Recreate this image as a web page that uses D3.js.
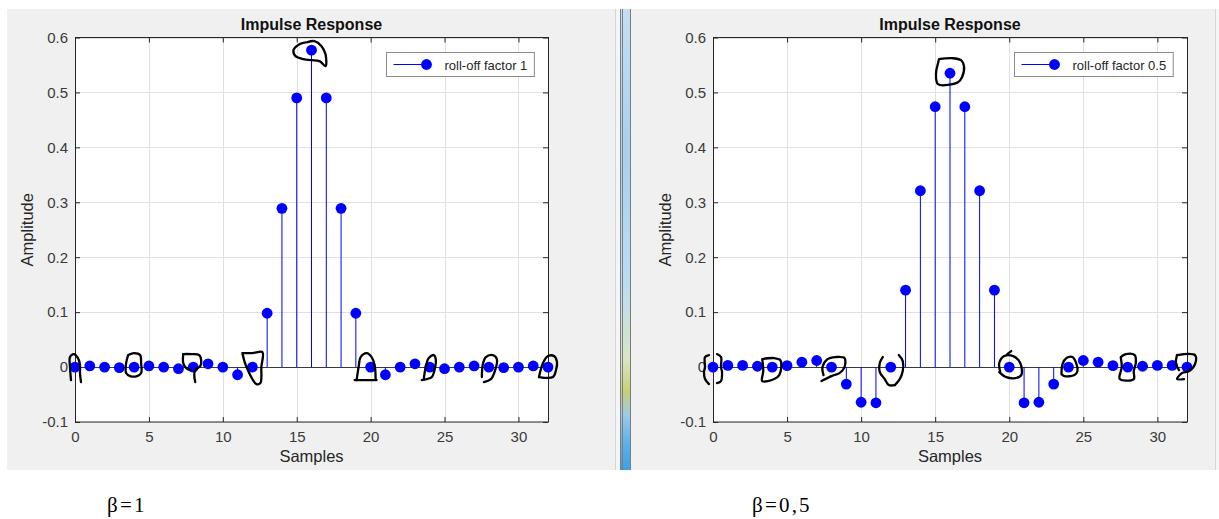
<!DOCTYPE html>
<html>
<head>
<meta charset="utf-8">
<script src="https://cdn.jsdelivr.net/npm/d3@7"></script>
<style>
  body { margin: 0; background: #ffffff; }
  svg { display: block; }
</style>
</head>
<body>
<svg id="fig" width="1219" height="519"></svg>
<script>
// Raised-cosine impulse responses (33 taps) for two roll-off factors
const samples = [0, 1, 2, 3, 4, 5, 6, 7, 8, 9, 10, 11, 12, 13, 14, 15, 16,
                 17, 18, 19, 20, 21, 22, 23, 24, 25, 26, 27, 28, 29, 30, 31, 32];

const rolloff1 = [0, 0.002, 0, -0.001, 0, 0.002, 0, -0.003, 0, 0.006, 0, -0.014, 0,
                  0.098, 0.289, 0.490, 0.577, 0.490, 0.289, 0.098,
                  0, -0.014, 0, 0.006, 0, -0.003, 0, 0.002, 0, -0.001, 0, 0.002, 0];

const rolloff05 = [0, 0.003, 0.003, 0.0015, 0, 0.0026, 0.009, 0.012, 0, -0.031, -0.064, -0.065, 0,
                   0.140, 0.321, 0.474, 0.535, 0.474, 0.321, 0.140,
                   0, -0.065, -0.064, -0.031, 0, 0.012, 0.009, 0.0026, 0, 0.0015, 0.003, 0.003, 0];

const xTicks = [0, 5, 10, 15, 20, 25, 30];
const yTicks = [-0.1, 0, 0.1, 0.2, 0.3, 0.4, 0.5, 0.6];
const yTickLabels = ["-0.1", "0", "0.1", "0.2", "0.3", "0.4", "0.5", "0.6"];

const legendLabels = ["roll-off factor 1", "roll-off factor 0.5"];
const betaLabels = ["β=1", "β=0,5"];

// Hand-drawn markings around selected samples (pen offsets in px from the sample)
const marks1 = [
  { n: 0,  strokes: [[[-4,13],[-5,0],[-5,-10],[-1,-13],[3,-9],[5,-2],[5,6],[6,15]]] },
  { n: 4,  strokes: [[[-6,-12],[0,-14],[6,-12],[7,-4],[7,6],[3,9],[-4,9],[-8,6],[-8,-4],[-6,-12]]] },
  { n: 8,  strokes: [[[-10,-13],[-2,-13],[6,-12],[8,-6],[7,-1],[2,3],[1,8],[2,15]],
                     [[-10,-13],[-10,-4],[-7,1],[-3,3]]] },
  { n: 12, strokes: [[[-10,-14],[0,-14],[10,-15],[9,0],[8,16],[4,17],[0,12],[-5,2],[-8,-6],[-10,-14]]] },
  { n: 20, strokes: [[[-14,13],[-12,0],[-10,-10],[-4,-14],[1,-10],[4,-2],[5,12]],
                     [[-16,13],[6,13]]] },
  { n: 24, strokes: [[[-6,12],[-4,0],[-1,-9],[4,-12],[6,-8],[5,2],[2,10],[-3,12],[-8,13]]] },
  { n: 28, strokes: [[[-7,10],[-6,-3],[-3,-10],[4,-12],[8,-8],[6,4],[2,12],[-5,15]]] },
  { n: 32, strokes: [[[-9,10],[-5,-4],[0,-11],[6,-11],[9,-5],[8,3],[5,10],[-9,10]]] },
  { n: 16, peak: true, strokes: [[[-4,-8],[-12,-6],[-18,0],[-16,6],[-8,9],[0,10],[8,11],[14,16],[14,4],[10,-4],[3,-9],[-4,-8]]] }
];
const marks05 = [
  { n: 0,  strokes: [[[-4,-12],[-8,-10],[-8,0],[-9,5],[-8,12],[-4,17]],
                     [[4,-13],[8,-10],[8,0],[9,5],[8,14],[4,16]]] },
  { n: 4,  strokes: [[[-10,-8],[2,-9],[8,-7],[9,0],[7,8],[2,12],[-10,14],[-9,4],[-10,-8]]] },
  { n: 8,  strokes: [[[-8,8],[-9,0],[-4,-8],[4,-10],[13,-9],[13,0],[8,6],[0,9],[-10,14]]] },
  { n: 12, strokes: [[[-8,-10],[-11,-4],[-11,5],[-6,12],[-2,18],[4,18]],
                     [[8,-12],[12,-6],[12,4],[9,12],[4,18]]] },
  { n: 20, strokes: [[[-9,5],[-10,-4],[-5,-11],[4,-11],[11,-4],[12,8],[6,11],[-3,10],[-10,5]],
                     [[-2,-13],[2,-16]]] },
  { n: 24, strokes: [[[-7,7],[-6,-3],[-2,-9],[4,-10],[8,-3],[9,4],[6,8],[-4,9],[-7,7]]] },
  { n: 28, strokes: [[[-7,-10],[-2,-13],[7,-12],[8,-4],[6,4],[6,12],[-8,12],[-6,0],[-7,-10]]] },
  { n: 32, strokes: [[[-10,-12],[8,-12],[8,-3],[2,4],[-5,6],[-10,12],[-3,12]],
                     [[-10,-12],[-11,-4],[-8,3]]] },
  { n: 16, peak: true, strokes: [[[-11,-14],[2,-15],[11,-13],[14,-7],[12,4],[8,9],[-12,11],[-14,0],[-12,-10],[-11,-14]]] }
];

const svg = d3.select("#fig");
const FONT = "'Liberation Sans', Arial, Helvetica, sans-serif";
const AXC = "#262626";

// figure background and window divider
svg.append("rect").attr("x", 7).attr("y", 9).attr("width", 1212).attr("height", 461).attr("fill", "#f0f0f0");
svg.append("line").attr("x1", 615.5).attr("x2", 615.5).attr("y1", 9).attr("y2", 470).attr("stroke", "#d6d6d6");
svg.append("rect").attr("x", 616).attr("y", 9).attr("width", 4).attr("height", 461).attr("fill", "#f5f5f5");
svg.append("line").attr("x1", 1215.5).attr("x2", 1215.5).attr("y1", 9).attr("y2", 470).attr("stroke", "#d6d6d6");
svg.append("rect").attr("x", 1216).attr("y", 9).attr("width", 3).attr("height", 461).attr("fill", "#f5f5f5");

const defs = svg.append("defs");
const grad = defs.append("linearGradient").attr("id", "divgrad")
  .attr("x1", 0).attr("x2", 0).attr("y1", 0).attr("y2", 1);
[[0, "#c4def4"], [0.3, "#a9d0f0"], [0.6, "#bcdcf2"], [0.76, "#d8e6c4"], [0.83, "#c8cf78"],
 [0.88, "#9ccbe9"], [0.94, "#5eb2ec"], [1, "#3c9fe4"]]
  .forEach(([o, c]) => grad.append("stop").attr("offset", o).attr("stop-color", c));
svg.append("rect").attr("x", 620).attr("y", 9).attr("width", 11).attr("height", 461).attr("fill", "url(#divgrad)");
[620.5, 622.5, 630.5].forEach(xx =>
  svg.append("line").attr("x1", xx).attr("x2", xx).attr("y1", 9).attr("y2", 470)
    .attr("stroke", "#7d7d7d").attr("stroke-width", 1));

function drawPanel(cfg) {
  const x = d3.scaleLinear().domain([0, 32]).range([cfg.left, cfg.right]);
  const y = d3.scaleLinear().domain([-0.1, 0.6]).range([422, 37.5]);
  const g = svg.append("g");

  // plot area
  g.append("rect").attr("x", cfg.left).attr("y", 37.5)
    .attr("width", cfg.right - cfg.left).attr("height", 422 - 37.5).attr("fill", "#ffffff");

  // grid
  g.append("g").selectAll("line").data(xTicks).join("line")
    .attr("x1", d => Math.round(x(d)) + 0.5).attr("x2", d => Math.round(x(d)) + 0.5)
    .attr("y1", 37.5).attr("y2", 422).attr("stroke", "#e0e0e0");
  g.append("g").selectAll("line").data(yTicks).join("line")
    .attr("y1", d => Math.round(y(d)) + 0.5).attr("y2", d => Math.round(y(d)) + 0.5)
    .attr("x1", cfg.left).attr("x2", cfg.right).attr("stroke", "#e0e0e0");

  // axes with inward ticks
  const ax = g.append("g").attr("transform", "translate(0,422)")
    .call(d3.axisBottom(x).tickValues(xTicks).tickSizeInner(-5).tickSizeOuter(0).tickPadding(9));
  const ay = g.append("g").attr("transform", `translate(${cfg.left},0)`)
    .call(d3.axisLeft(y).tickValues(yTicks).tickFormat((d, i) => yTickLabels[i])
      .tickSizeInner(-5).tickSizeOuter(0).tickPadding(7));
  const at = g.append("g").attr("transform", "translate(0,37.5)")
    .call(d3.axisTop(x).tickValues(xTicks).tickSizeInner(-5).tickSizeOuter(0).tickFormat(""));
  const ar = g.append("g").attr("transform", `translate(${cfg.right},0)`)
    .call(d3.axisRight(y).tickValues(yTicks).tickSizeInner(-5).tickSizeOuter(0).tickFormat(""));
  [ax, ay, at, ar].forEach(a => {
    a.select(".domain").remove();
    a.selectAll("line").attr("stroke", AXC);
    a.selectAll("text").attr("fill", "#3a3a3a").style("font-family", FONT).style("font-size", "15px");
  });
  g.append("rect").attr("x", Math.round(cfg.left) + 0.5).attr("y", 37.5)
    .attr("width", Math.round(cfg.right) - Math.round(cfg.left)).attr("height", 384.5)
    .attr("fill", "none").attr("stroke", AXC).attr("stroke-width", 1);

  // baseline
  g.append("line").attr("x1", x(0)).attr("x2", x(32))
    .attr("y1", Math.round(y(0)) + 0.5).attr("y2", Math.round(y(0)) + 0.5)
    .attr("stroke", "#3a3a3a").attr("stroke-width", 1);

  const pts = samples.map((s, i) => ({ s, v: cfg.values[i] }));
  // stems
  g.append("g").selectAll("line").data(pts).join("line")
    .attr("x1", d => x(d.s)).attr("x2", d => x(d.s))
    .attr("y1", y(0)).attr("y2", d => y(d.v))
    .attr("stroke", "#0000ff").attr("stroke-width", 1);
  // markers
  g.append("g").selectAll("circle").data(pts).join("circle")
    .attr("cx", d => x(d.s)).attr("cy", d => y(d.v)).attr("r", 5.4)
    .attr("fill", "#0000ff");

  // titles
  const cx = (cfg.left + cfg.right) / 2;
  g.append("text").attr("x", cx).attr("y", 29.5).attr("text-anchor", "middle")
    .style("font-family", FONT).style("font-size", "16px").style("font-weight", "bold")
    .attr("fill", "#111").text("Impulse Response");
  g.append("text").attr("x", cx).attr("y", 462).attr("text-anchor", "middle")
    .style("font-family", FONT).style("font-size", "16.5px")
    .attr("fill", "#262626").text("Samples");
  g.append("text").attr("transform", `translate(${cfg.left - 42},${(37.5 + 422) / 2}) rotate(-90)`)
    .attr("text-anchor", "middle")
    .style("font-family", FONT).style("font-size", "16.5px")
    .attr("fill", "#262626").text("Amplitude");

  // legend
  const lg = g.append("g");
  const lt = lg.append("text").attr("y", 69.5)
    .style("font-family", FONT).style("font-size", "13px").attr("fill", "#262626")
    .text(cfg.legend);
  const tw = lt.node().getComputedTextLength();
  const boxW = tw + 65;
  const bx = Math.round(cfg.right - 14 - boxW) + 0.5;
  lg.insert("rect", "text").attr("x", bx).attr("y", 52.5).attr("width", boxW).attr("height", 24)
    .attr("fill", "#ffffff").attr("stroke", "#8a8a8a").attr("stroke-width", 1);
  lg.append("line").attr("x1", bx + 7).attr("x2", bx + 40).attr("y1", 64.5).attr("y2", 64.5)
    .attr("stroke", "#0000ff").attr("stroke-width", 1);
  lg.append("circle").attr("cx", bx + 40).attr("cy", 64.5).attr("r", 5.4).attr("fill", "#0000ff");
  lt.attr("x", bx + 58);

  // pen markings
  const pen = d3.line().curve(d3.curveCatmullRom.alpha(0.5));
  const mg = g.append("g");
  cfg.marks.forEach(m => {
    const ox = x(m.n);
    const oy = m.peak ? y(cfg.values[m.n]) : y(0);
    m.strokes.forEach(st => {
      mg.append("path").attr("d", pen(st.map(([dx, dy]) => [ox + dx, oy + dy])))
        .attr("fill", "none").attr("stroke", "#000").attr("stroke-width", 2.3)
        .attr("stroke-linecap", "round").attr("stroke-linejoin", "round");
    });
  });

  // caption below
  svg.append("text").attr("x", cfg.captionX).attr("y", 512)
    .style("font-family", "'Liberation Serif', 'DejaVu Serif', serif").style("font-size", "21px")
    .style("letter-spacing", "2.2px")
    .attr("fill", "#000").text(cfg.caption);
}

drawPanel({ left: 75, right: 548, values: rolloff1, legend: legendLabels[0], marks: marks1,
            caption: betaLabels[0], captionX: 107 });
drawPanel({ left: 713, right: 1187, values: rolloff05, legend: legendLabels[1], marks: marks05,
            caption: betaLabels[1], captionX: 752 });
</script>
</body>
</html>
